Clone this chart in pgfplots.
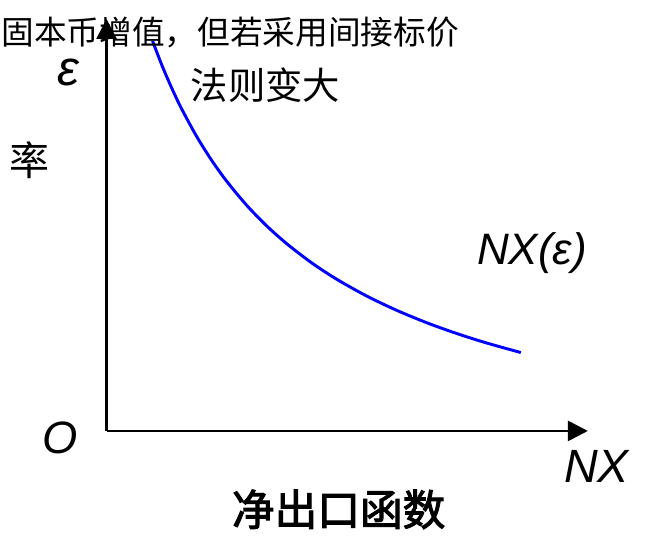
\documentclass[border=0pt]{standalone}
\usepackage{fontspec}
\setmainfont{Liberation Sans}
\newfontfamily\cjk{Noto Sans CJK SC}
\newfontfamily\cjkmed[FakeBold=2.5]{Noto Sans CJK SC}
\usepackage{pgfplots}
\pgfplotsset{compat=1.18}
\usetikzlibrary{arrows.meta}
\begin{document}
\begin{tikzpicture}[x=1pt,y=1pt]
\path[use as bounding box] (0,0) rectangle (492,408);
\begin{axis}[
  at={(79.9pt,84.8pt)}, anchor=origin,
  scale only axis, width=361pt, height=309pt,
  xmin=0, xmax=481, ymin=0, ymax=412,
  axis lines=left, ticks=none,
  axis line style={line width=2pt, -{Triangle[length=15pt,width=15pt]}},
  clip=false,
]
\addplot[blue, line width=2.2pt, smooth, tension=0.5] coordinates {
(46,390.0) (55,366.5) (65,343.2) (75,322.2) (90,294.6) (105,270.7)
(120,249.8) (140,225.7) (160,205.1) (180,187.3) (205,168.1) (230,151.7)
(260,134.9) (290,120.6) (320,108.2) (350,97.4) (380,87.9) (414,78.4)
};
\end{axis}
\node at (51,354) {\fontsize{37}{40}\selectfont\itshape ε};
\node at (45,79.5) {\fontsize{34}{40}\selectfont\itshape O};
\node at (447.5,58) {\fontsize{35}{40}\selectfont\itshape NX};
\node at (399,218) {\fontsize{33}{40}\selectfont\itshape NX(ε)};
\node at (254,26) {\fontsize{32}{38}\selectfont\cjkmed 净出口函数};
\node[anchor=west, inner sep=0pt] at (1,384) {\fontsize{24.5}{30}\selectfont\cjk 固本币增值，但若采用间接标价};
\node at (199,344) {\fontsize{28}{32}\selectfont\cjk 法则变大};
\node at (22,288) {\fontsize{30}{32}\selectfont\cjk 率};
\end{tikzpicture}
\end{document}
